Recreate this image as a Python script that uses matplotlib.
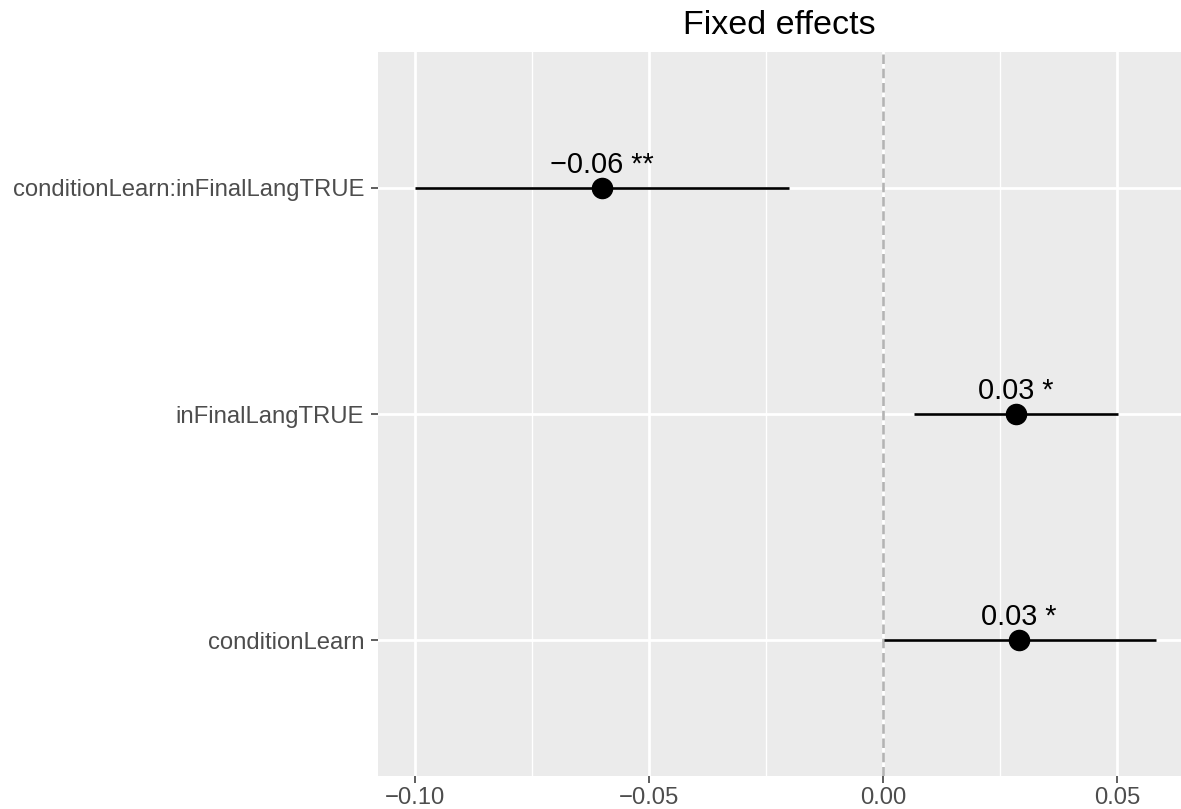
import matplotlib
matplotlib.use("Agg")
import matplotlib.pyplot as plt
import numpy as np

plt.rcParams['font.family'] = ['Liberation Sans', 'DejaVu Sans']

# fixed-effect estimates with their confidence intervals (bottom row first)
terms = ["conditionLearn", "inFinalLangTRUE", "conditionLearn:inFinalLangTRUE"]
estimate = [0.0291, 0.0284, -0.0602]
ci_low = [0.0002, 0.0067, -0.1000]
ci_high = [0.0583, 0.0502, -0.0201]
stars = ["*", "*", "**"]

xticks = [-0.10, -0.05, 0.00, 0.05]
xtick_labels = ["\u22120.10", "\u22120.05", "0.00", "0.05"]
xminor = [-0.075, -0.025, 0.025]

W, H = 1181, 809
fig = plt.figure(figsize=(W / 100, H / 100), dpi=100)
ax = fig.add_axes([378 / W, (H - 776) / H, 1 - 378 / W, (776 - 52) / H])
ax.set_facecolor("#EBEBEB")
for s in ax.spines.values():
    s.set_visible(False)

ypos = np.arange(1, len(terms) + 1)

# grid
for x in xticks:
    ax.axvline(x, color="white", lw=2.0, zorder=1)
for x in xminor:
    ax.axvline(x, color="white", lw=1.0, zorder=1)
for y in ypos:
    ax.axhline(y, color="white", lw=2.0, zorder=1)

# reference line at zero
ax.axvline(0, color="#B3B3B3", lw=1.9, linestyle=(0, (3.6, 1.8)), zorder=2)

# intervals and point estimates
ax.hlines(ypos, ci_low, ci_high, color="black", lw=1.9, zorder=3)
ax.plot(estimate, ypos, "o", color="black", markersize=14.5, zorder=4)

for est, y, st in zip(estimate, ypos, stars):
    txt = f"{est:.2f} {st}".replace("-", "\u2212")
    ax.annotate(txt, (est, y), xytext=(0, 6.5), textcoords="offset points",
                ha="center", va="bottom", fontsize=20.8, color="black", zorder=5)

ax.set_xlim(-0.1080, 0.0637)
ax.set_ylim(0.4, len(terms) + 0.6)
ax.set_xticks(xticks)
ax.set_xticklabels(xtick_labels)
ax.set_yticks(ypos)
ax.set_yticklabels(terms)
ax.tick_params(axis="both", colors="#333333", length=5, width=1.1,
               labelsize=17.2, labelcolor="#4D4D4D")
ax.tick_params(axis="x", pad=3)
ax.tick_params(axis="y", pad=5)

ax.set_title("Fixed effects", fontsize=24.5, color="black", pad=13)

fig.savefig("out.png", dpi=100)
